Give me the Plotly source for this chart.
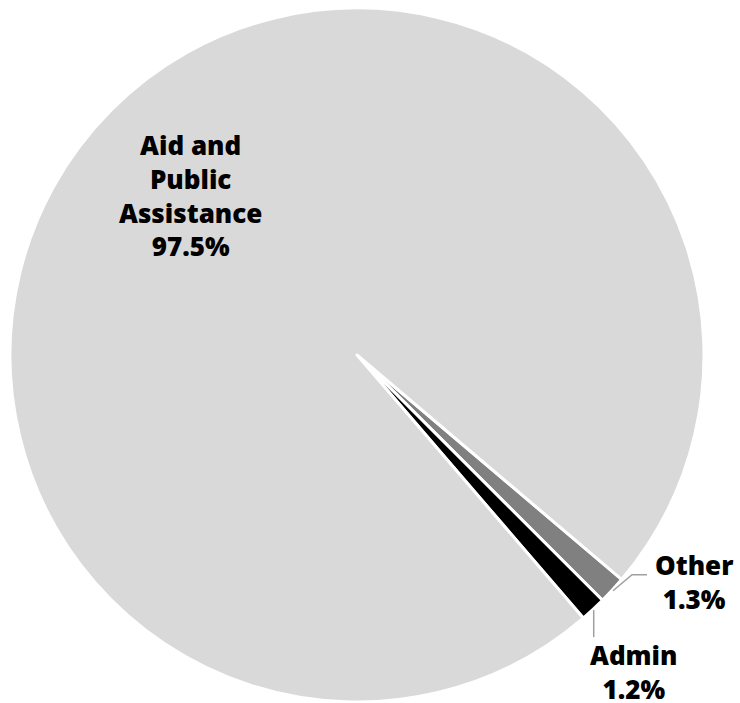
import math
import plotly.graph_objects as go

# Spending shares by category (percent of total)
categories = ["Other", "Admin", "Aid and Public Assistance"]
shares = [1.3, 1.2, 97.5]
slice_colors = ["#808080", "#000000", "#d9d9d9"]

W, H = 740, 703
CX, CY, R = 357.0, 355.0, 347.0      # pie centre / radius in pixels
ROTATION = 130.3                     # first slice starts here (deg clockwise from 12 o'clock)

dom_x = [(CX - R) / W, (CX + R) / W]
dom_y = [1 - (CY + R) / H, 1 - (CY - R) / H]

fig = go.Figure(
    go.Pie(
        labels=categories,
        values=shares,
        sort=False,
        direction="clockwise",
        rotation=ROTATION,
        marker=dict(colors=slice_colors, line=dict(color="#ffffff", width=3)),
        textinfo="none",
        hoverinfo="label+percent",
        domain=dict(x=dom_x, y=dom_y),
        showlegend=False,
    )
)

font = dict(family="'Open Sans', Lato, sans-serif", size=26, color="#000000", weight=800)


def px_to_paper(x, y):
    return x / W, 1 - y / H


def mid_angle(i):
    total = sum(shares)
    before = sum(shares[:i])
    return ROTATION + 360 * (before + shares[i] / 2) / total


def edge_point(i, rad):
    a = math.radians(mid_angle(i))
    return CX + rad * math.sin(a), CY - rad * math.cos(a)


def label_text(i):
    name = categories[i]
    if name == "Aid and Public Assistance":
        name = "Aid and<br>Public<br>Assistance"
    return f"{name}<br>{shares[i]:.1f}%"


# Label inside the large slice
x, y = px_to_paper(190, 195)
fig.add_annotation(x=x, y=y, xref="paper", yref="paper", text=label_text(2),
                   showarrow=False, xanchor="center", yanchor="middle",
                   font=font, align="center")

# Outside labels with leader lines
line_style = dict(color="#a0a0a0", width=1.5)

# Other: short diagonal then horizontal
sx, sy = edge_point(0, R + 1)
ex, ey = sx + 19, sy - 16
fig.add_shape(type="path", xref="paper", yref="paper",
              path="M {:.4f},{:.4f} L {:.4f},{:.4f} L {:.4f},{:.4f}".format(
                  *px_to_paper(sx, sy), *px_to_paper(ex, ey), *px_to_paper(ex + 15, ey)),
              line=line_style)
x, y = px_to_paper(694, 582)
fig.add_annotation(x=x, y=y, xref="paper", yref="paper", text=label_text(0),
                   showarrow=False, xanchor="center", yanchor="middle",
                   font=font, align="center")

# Admin: vertical drop
sx, sy = edge_point(1, R + 1)
fig.add_shape(type="line", xref="paper", yref="paper",
              x0=px_to_paper(sx, sy)[0], y0=px_to_paper(sx, sy)[1],
              x1=px_to_paper(sx, sy + 27)[0], y1=px_to_paper(sx, sy + 27)[1],
              line=line_style)
x, y = px_to_paper(633, 672)
fig.add_annotation(x=x, y=y, xref="paper", yref="paper", text=label_text(1),
                   showarrow=False, xanchor="center", yanchor="middle",
                   font=font, align="center")

fig.update_layout(
    width=W, height=H,
    margin=dict(l=0, r=0, t=0, b=0),
    paper_bgcolor="#ffffff",
    plot_bgcolor="#ffffff",
)

fig.write_html("out.html")
